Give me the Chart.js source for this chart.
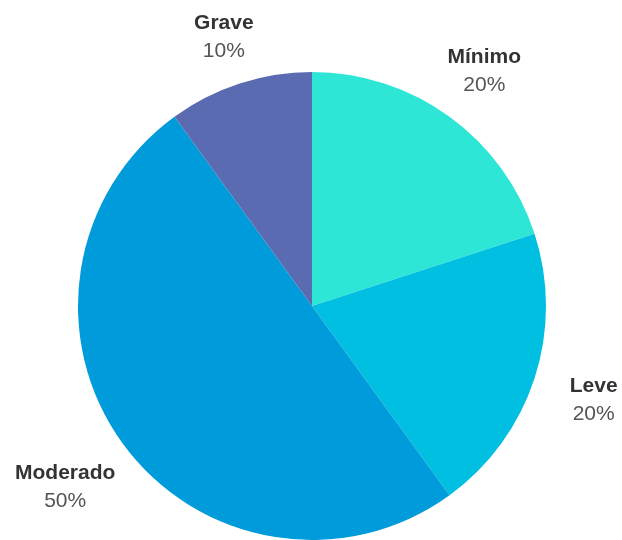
<!DOCTYPE html>
<html lang="pt">
<head>
    <meta charset="UTF-8">
    <title>Distribuição por gravidade</title>
    <script src="https://cdn.jsdelivr.net/npm/chart.js"></script>
    <style>
        html, body { margin: 0; padding: 0; background: #fff; }
        #wrap { width: 622px; height: 540px; position: relative; }
    </style>
</head>
<body>
    <div id="wrap"><canvas id="pieChart"></canvas></div>
    <script>
        const categories = ['Mínimo', 'Leve', 'Moderado', 'Grave'];
        const shares = [20, 20, 50, 10];
        const sliceColors = ['#2ee6d6', '#00bfe0', '#009bda', '#5a6bb2'];

        const boldFont = 'bold 21px "Liberation Sans", Arial, sans-serif';
        const plainFont = '21px "Liberation Sans", Arial, sans-serif';

        // labels outside the pie: bold name, percent below
        const outsideLabels = {
            id: 'outsideLabels',
            afterDraw(chart) {
                const ctx = chart.ctx;
                const meta = chart.getDatasetMeta(0);
                const total = shares.reduce((a, b) => a + b, 0);
                ctx.save();
                meta.data.forEach((arc, i) => {
                    const mid = (arc.startAngle + arc.endAngle) / 2;
                    const dx = Math.cos(mid), dy = Math.sin(mid);
                    const pct = Math.round(shares[i] / total * 100) + '%';
                    ctx.font = boldFont;
                    const w1 = ctx.measureText(categories[i]).width;
                    ctx.font = plainFont;
                    const w2 = ctx.measureText(pct).width;
                    const w = Math.max(w1, w2, 80), h = 46;
                    // push the box out until it clears the arc
                    const r = arc.outerRadius + 17 + Math.abs(dx) * w / 2 + Math.abs(dy) * h / 2;
                    const cx = arc.x + dx * r;
                    const cy = arc.y + dy * r;
                    ctx.textAlign = 'center';
                    ctx.textBaseline = 'alphabetic';
                    ctx.fillStyle = '#333';
                    ctx.font = boldFont;
                    ctx.fillText(categories[i], cx, cy - 6);
                    ctx.fillStyle = '#555';
                    ctx.font = plainFont;
                    ctx.fillText(pct, cx, cy + 22);
                });
                ctx.restore();
            }
        };

        new Chart(document.getElementById('pieChart'), {
            type: 'pie',
            data: {
                labels: categories,
                datasets: [{
                    data: shares,
                    backgroundColor: sliceColors,
                    borderWidth: 0
                }]
            },
            options: {
                responsive: true,
                maintainAspectRatio: false,
                animation: false,
                layout: { padding: { top: 72, bottom: 0, left: 78, right: 76 } },
                plugins: {
                    legend: { display: false },
                    tooltip: { enabled: false }
                }
            },
            plugins: [outsideLabels]
        });
    </script>
</body>
</html>
